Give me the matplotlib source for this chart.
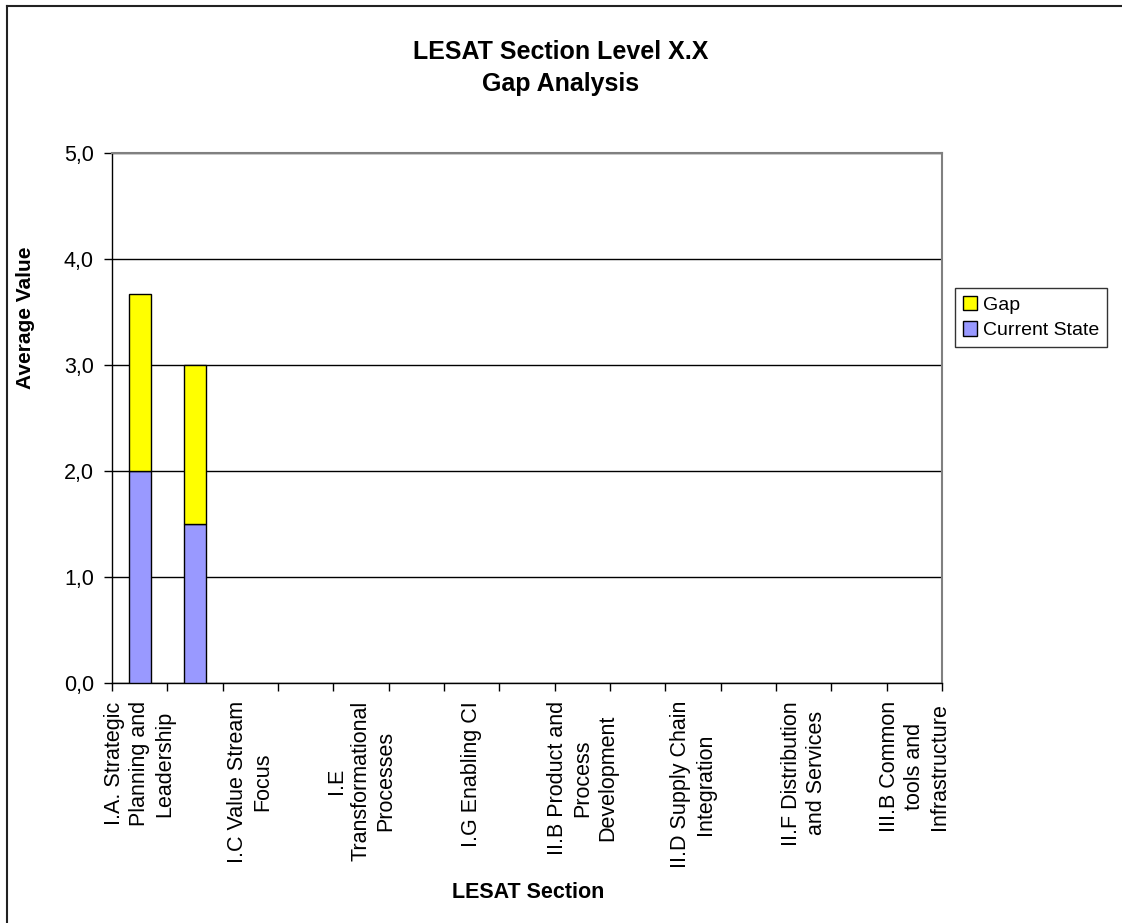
import numpy as np
import matplotlib
matplotlib.use("Agg")
import matplotlib.pyplot as plt
from matplotlib.lines import Line2D

plt.rcParams['font.family'] = ['Liberation Sans', 'DejaVu Sans']

# LESAT sections (every other one is labelled on the axis)
sections = [
    "I.A. Strategic\nPlanning and\nLeadership",
    "I.B",
    "I.C Value Stream\nFocus",
    "I.D",
    "I.E\nTransformational\nProcesses",
    "I.F",
    "I.G Enabling CI",
    "II.A",
    "II.B Product and\nProcess\nDevelopment",
    "II.C",
    "II.D Supply Chain\nIntegration",
    "II.E",
    "II.F Distribution\nand Services",
    "III.A",
    "III.B Common\ntools and\nInfrastructure",
]
current_state = [2.0, 1.5] + [np.nan] * 13
gap = [1.67, 1.5] + [np.nan] * 13

y_ticks = [0, 1, 2, 3, 4, 5]
y_tick_labels = ["0,0", "1,0", "2,0", "3,0", "4,0", "5,0"]

W, H = 1122, 923
fig = plt.figure(figsize=(W / 100, H / 100), dpi=100)
fig.patch.set_facecolor("white")

left, right, top, bottom = 112, 942, 153, 683
ax = fig.add_axes([left / W, 1 - bottom / H, (right - left) / W, (bottom - top) / H])

x = np.arange(len(sections))
cur = np.array(current_state, dtype=float)
gp = np.array(gap, dtype=float)
b1 = ax.bar(x, cur, width=0.4, color="#9999FF", edgecolor="black", linewidth=1.0,
            label="Current State", zorder=3)
b2 = ax.bar(x, gp, width=0.4, bottom=cur, color="#FFFF00", edgecolor="black",
            linewidth=1.0, label="Gap", zorder=3)

ax.set_xlim(-0.5, len(sections) - 0.5)
ax.set_ylim(0, 5)

# y axis
ax.set_yticks(y_ticks)
ax.set_yticklabels(y_tick_labels, fontsize=15.5)
ax.tick_params(axis="y", direction="out", length=6, width=1, pad=7, color="black")
ax.yaxis.grid(True, color="black", linewidth=1.0, zorder=0)
ax.set_axisbelow(True)

# x axis: tick marks between categories, labels at the centres
ax.set_xticks(np.arange(-0.5, len(sections), 1.0))
ax.set_xticklabels([])
ax.tick_params(axis="x", which="major", direction="out", length=6, width=1, color="black")
ax.set_xticks(x[::2], minor=True)
ax.set_xticklabels([sections[i] for i in x[::2]], minor=True, rotation=90,
                   fontsize=15.5, ha="center", va="top", multialignment="center",
                   linespacing=1.25)
ax.tick_params(axis="x", which="minor", length=0, pad=13)

for side in ("left", "bottom"):
    ax.spines[side].set_color("black")
    ax.spines[side].set_linewidth(1.0)
for side in ("top", "right"):
    ax.spines[side].set_color("#808080")
    ax.spines[side].set_linewidth(1.5)

ax.set_ylabel("Average Value", fontsize=15, fontweight="bold")
ax.yaxis.set_label_coords((35 - left) / (right - left), (bottom - 318) / (bottom - top))
ax.set_xlabel("LESAT Section", fontsize=15.5, fontweight="bold", va="center")
ax.xaxis.set_label_coords((528 - left) / (right - left), (bottom - 893) / (bottom - top))

fig.text(0.5, 1 - 68 / H, "LESAT Section Level X.X\nGap Analysis", ha="center",
         va="center", fontsize=18, fontweight="bold", linespacing=1.45)

leg = ax.legend(handles=[b2, b1], labels=["Gap", "Current State"],
                loc="upper left", bbox_to_anchor=(955 / W, 1 - 288 / H),
                bbox_transform=fig.transFigure, fontsize=14, frameon=True,
                fancybox=False, shadow=False, handlelength=0.75, handleheight=0.75,
                handletextpad=0.3, borderpad=0.4, labelspacing=0.4,
                borderaxespad=0)
leg.get_frame().set_edgecolor("black")
leg.get_frame().set_linewidth(1.0)

# outer chart border (top and left edges)
fig.add_artist(Line2D([7 / W, 1.0], [1 - 6 / H, 1 - 6 / H], transform=fig.transFigure,
                      color="#222222", linewidth=1.5))
fig.add_artist(Line2D([7 / W, 7 / W], [1 - 6 / H, 0.0], transform=fig.transFigure,
                      color="#222222", linewidth=1.5))

fig.savefig("out.png", dpi=100)
